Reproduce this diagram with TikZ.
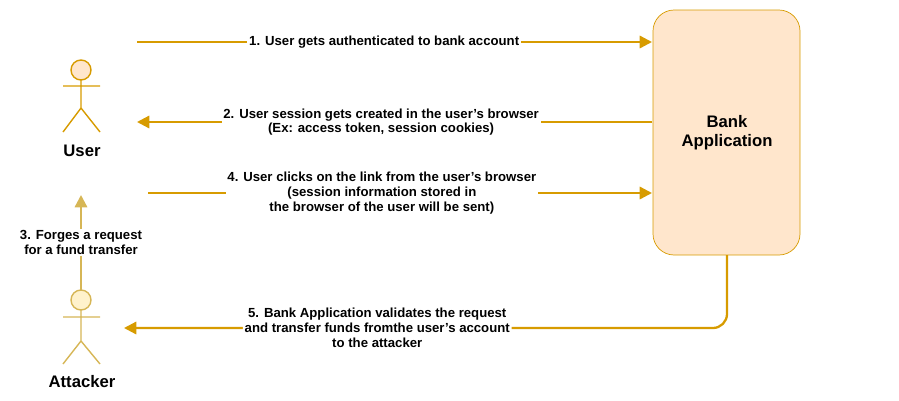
\documentclass[tikz,border=0pt]{standalone}
\usepackage{fontspec}
\setmainfont{Liberation Sans}
\usetikzlibrary{arrows.meta, positioning}
\definecolor{floworange}{HTML}{D79B00}
\definecolor{lightgold}{HTML}{D6B656}
\definecolor{peach}{HTML}{FFE6CC}
\definecolor{paleyellow}{HTML}{FFF2CC}
\tikzset{
  flow/.style={floworange, line width=1.3pt, -{Triangle[length=7pt,width=7pt]}},
  lbl/.style={fill=white, text=black, font=\fontsize{7.5}{8.4}\selectfont\bfseries, align=center, inner sep=1pt},
  actor/.style={font=\fontsize{9.5}{11}\selectfont\bfseries}
}
\begin{document}
\begin{tikzpicture}[x=0.02cm, y=-0.02cm]
\useasboundingbox (0,0) rectangle (899,400);
% Bank application
\draw[floworange, fill=peach, rounded corners=12pt] (653,10) rectangle (800,255);
\node[actor, align=center] (bank) at (727,133) {Bank\\Application};
\coordinate (bankin1) at (652,42);
\coordinate (bankout2) at (652,122);
\coordinate (bankin4) at (652,193);
\coordinate (bankout5) at (727,255);

% User
\draw[floworange, fill=peach, line width=0.8pt] (81,70) circle (10);
\draw[floworange, line width=0.8pt] (81,80) -- (81,108) (63,86) -- (100,86) (63,132) -- (81,108) -- (100,132);
\node[actor] (user) at (82,151) {User};
\coordinate (userout1) at (137,42);
\coordinate (userin2) at (137,122);
\coordinate (userout4) at (148,193);
\coordinate (userfoot) at (81,195);

% Attacker
\draw[lightgold, fill=paleyellow, line width=0.8pt] (81,300) circle (10);
\draw[lightgold, line width=0.8pt] (81,310) -- (81,341) (63,317) -- (100,317) (63,364) -- (81,341) -- (100,364);
\node[actor] (attacker) at (82,382) {Attacker};
\coordinate (attackhead) at (81,290);
\coordinate (attackin5) at (124,328);

% Messages
\draw[flow] (userout1) -- node[lbl, pos=0.48] {1. User gets authenticated to bank account} (bankin1);
\draw[flow] (bankout2) -- node[lbl, pos=0.526] {2. User session gets created in the user's browser\\(Ex: access token, session cookies)} (userin2);
\draw[flow] (userout4) -- node[lbl, pos=0.464] {4. User clicks on the link from the user's browser\\(session information stored in\\the browser of the user will be sent)} (bankin4);
\draw[flow, lightgold] (attackhead) -- node[lbl] {3. Forges a request\\for a fund transfer} (userfoot);
\draw[flow, rounded corners=8pt] (bankout5) |- node[lbl, pos=0.79] {5. Bank Application validates the request\\and transfer funds fromthe user's account\\to the attacker} (attackin5);
\end{tikzpicture}
\end{document}
